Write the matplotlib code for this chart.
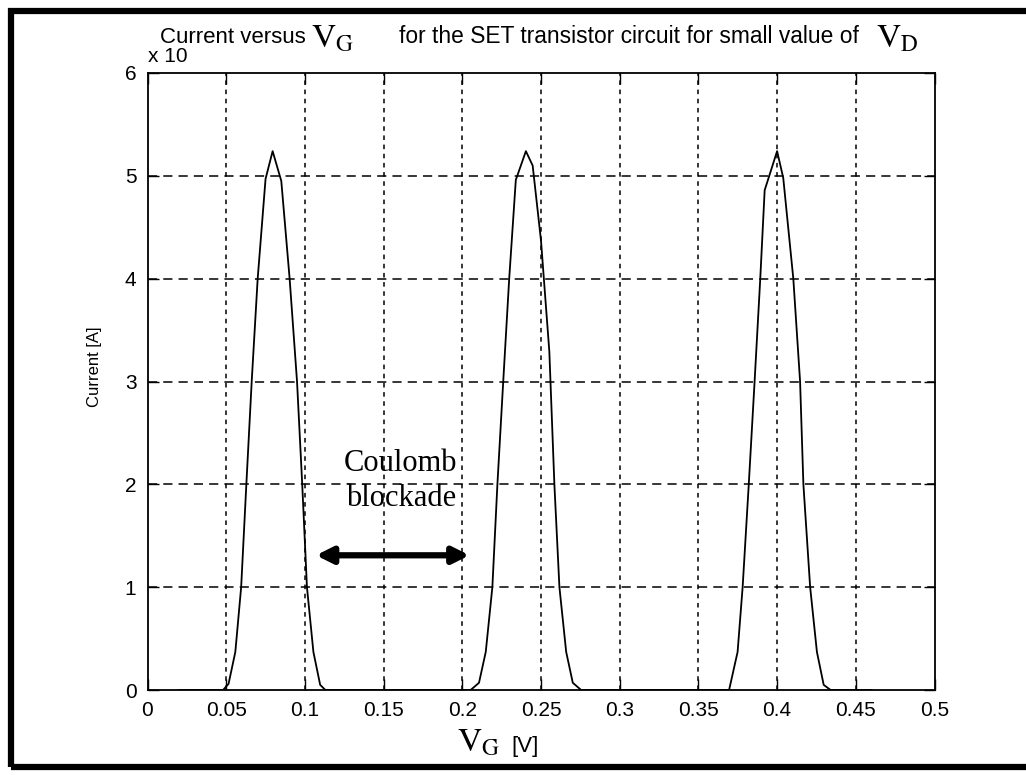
import matplotlib
matplotlib.use("Agg")
import matplotlib.pyplot as plt
from matplotlib.patches import Rectangle

# gate voltage [V] and drain current (in units of the "x 10^n" axis multiplier)
vg = [0.020, 0.045, 0.048, 0.0515, 0.0558, 0.0595, 0.0628, 0.0662, 0.0700, 0.0750, 0.0795,
      0.0850, 0.0903, 0.0950, 0.0983, 0.1013, 0.1054, 0.1097, 0.1130,
      0.150, 0.2000, 0.2053, 0.2106, 0.2149, 0.2191, 0.2223, 0.2260, 0.2298, 0.2340, 0.2404,
      0.2447, 0.2500, 0.2553, 0.2585, 0.2617, 0.2660, 0.2702, 0.2755,
      0.3200, 0.3650, 0.3695, 0.3749, 0.3781, 0.3820, 0.3857, 0.3893, 0.3921, 0.4000,
      0.4039, 0.4103, 0.4146, 0.4167, 0.4210, 0.4253, 0.4296, 0.4340, 0.4600]
current = [0.0, 0.0, 0.0, 0.06, 0.37, 1.0, 2.0, 3.0, 4.0, 4.97, 5.24,
           4.95, 4.0, 3.0, 2.0, 1.0, 0.37, 0.05, 0.0,
           0.0, 0.0, 0.0, 0.07, 0.37, 1.0, 2.0, 3.0, 4.0, 4.96, 5.24,
           5.1, 4.37, 3.29, 2.0, 1.0, 0.37, 0.07, 0.0,
           0.0, 0.0, 0.0, 0.37, 1.0, 2.0, 3.0, 4.0, 4.86, 5.24,
           4.98, 4.0, 3.0, 2.0, 1.0, 0.37, 0.05, 0.0, 0.0]

xticks = [0, 0.05, 0.1, 0.15, 0.2, 0.25, 0.3, 0.35, 0.4, 0.45, 0.5]
xticklabels = ["0", "0.05", "0.1", "0.15", "0.2", "0.25", "0.3", "0.35", "0.4", "0.45", "0.5"]
yticks = [0, 1, 2, 3, 4, 5, 6]

# blockade arrow span and its label position
arrow_x = [0.107, 0.2046]
arrow_y = 1.31
label_xy = (0.161, 2.03)

W, H = 1026, 775
SANS = ["Liberation Sans", "DejaVu Sans"]
SERIF = ["Liberation Serif", "DejaVu Serif"]
plt.rcParams["mathtext.fontset"] = "stix"

fig = plt.figure(figsize=(W / 100, H / 100), dpi=100)
fig.patch.set_facecolor("white")

ax = fig.add_axes([147.5 / W, 1 - 690 / H, 787 / W, 617 / H])
ax.plot(vg, current, color="black", lw=1.3)

ax.set_xlim(0, 0.5)
ax.set_ylim(0, 6)
ax.set_xticks(xticks)
ax.set_xticklabels(xticklabels)
ax.set_yticks(yticks)
ax.tick_params(direction="in", length=8, top=True, right=True, width=1, pad=8)
for lab in ax.get_xticklabels() + ax.get_yticklabels():
    lab.set_family(SANS)
    lab.set_fontsize(15)
for sp in ax.spines.values():
    sp.set_linewidth(1.3)

# matlab-ish dotted grid
for x in xticks[1:-1]:
    ax.axvline(x, color="black", lw=1.1, ls=(0, (3, 3)), zorder=0)
for y in yticks[1:-1]:
    ax.axhline(y, color="black", lw=1.1, ls=(0, (6, 4)), zorder=0)

# blockade annotation
ax.annotate("", xy=(arrow_x[0], arrow_y), xytext=(arrow_x[1], arrow_y),
            arrowprops=dict(arrowstyle="<|-|>", color="black", lw=4.5, mutation_scale=24,
                            shrinkA=0, shrinkB=0))
ax.text(label_xy[0], label_xy[1], "Coulomb\nblockade", ha="center", va="center",
        family=SERIF, fontsize=22, linespacing=1.25)


def ftext(x, y, s, **kw):
    fig.text(x / W, 1 - y / H, s, va="baseline", **kw)


# title in pieces (sans text with serif symbols)
ftext(160, 43, "Current versus", family=SANS, fontsize=16)
ftext(311, 47, r"$\mathrm{V}_{\mathrm{G}}$", fontsize=24)
ftext(399, 43, "for the SET transistor circuit for small value of", family=SANS, fontsize=16.4)
ftext(876, 47, r"$\mathrm{V}_{\mathrm{D}}$", fontsize=24)
ftext(148, 62, "x 10", family=SANS, fontsize=15)

# axis labels
ftext(457, 752, r"$\mathrm{V}_{\mathrm{G}}$", fontsize=24)
ftext(511, 752, "[V]", family=SANS, fontsize=16)
fig.text(95 / W, 1 - 367 / H, "Current [A]", rotation=90, ha="center", va="center",
         family=SANS, fontsize=12)

# scanned-figure border
fig.patches.append(Rectangle((11 / W, 1 - 767 / H), 1030 / W, 756 / H,
                             transform=fig.transFigure, fill=False, lw=4.5,
                             edgecolor="black", clip_on=False))

fig.savefig("out.png", dpi=100)
